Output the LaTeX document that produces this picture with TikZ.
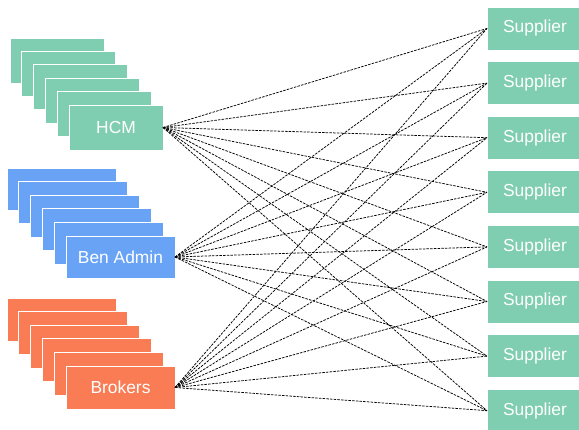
\documentclass[tikz,border=0pt]{standalone}
\usepackage{fontspec}
\setmainfont{Liberation Sans}
\definecolor{tealc}{RGB}{128,206,178}
\definecolor{bluec}{RGB}{104,163,245}
\definecolor{orangec}{RGB}{250,124,84}
\tikzset{
  boxbase/.style={rectangle, draw=white, line width=0.9pt, inner sep=0pt, outer sep=0pt, anchor=north west,
    text=white, font=\fontsize{17.4}{20}\selectfont},
  hcmbox/.style={boxbase, fill=tealc, minimum width=94pt, minimum height=45pt},
  benbox/.style={boxbase, fill=bluec, minimum width=109pt, minimum height=42pt},
  brokbox/.style={boxbase, fill=orangec, minimum width=109pt, minimum height=43pt},
  supbox/.style={boxbase, fill=tealc, minimum width=96pt, minimum height=43pt},
  link/.style={draw=black, line width=0.75pt, dash pattern=on 2.5pt off 1.2pt}
}
\begin{document}
\begin{tikzpicture}[x=1pt,y=-1pt]
\useasboundingbox (0,0) rectangle (579,430);
\clip (0,0) rectangle (579,430);
% HCM stack
\foreach \i in {0,...,4} {
  \node[hcmbox] (hcmb\i) at ({10+11.8*\i},{38+13.4*\i}) {};
}
\node[hcmbox] (hcm) at (69,105) {HCM};
% Ben Admin stack
\foreach \i in {0,...,4} {
  \node[benbox] (benb\i) at ({7+11.8*\i},{168+13.6*\i}) {};
}
\node[benbox] (ben) at (66,236) {Ben Admin};
% Brokers stack
\foreach \i in {0,...,4} {
  \node[brokbox] (brob\i) at ({7+11.8*\i},{298+13.6*\i}) {};
}
\node[brokbox] (bro) at (66,366) {Brokers};
% Suppliers
\foreach \j in {1,...,8} {
  \node[supbox] (s\j) at (487,{7+54.6*(\j-1)}) {Supplier};
}
% Links
\foreach \src in {hcm,ben,bro} {
  \foreach \j in {1,...,8} {
    \draw[link] (\src.east) -- (s\j.west);
  }
}
\end{tikzpicture}
\end{document}
